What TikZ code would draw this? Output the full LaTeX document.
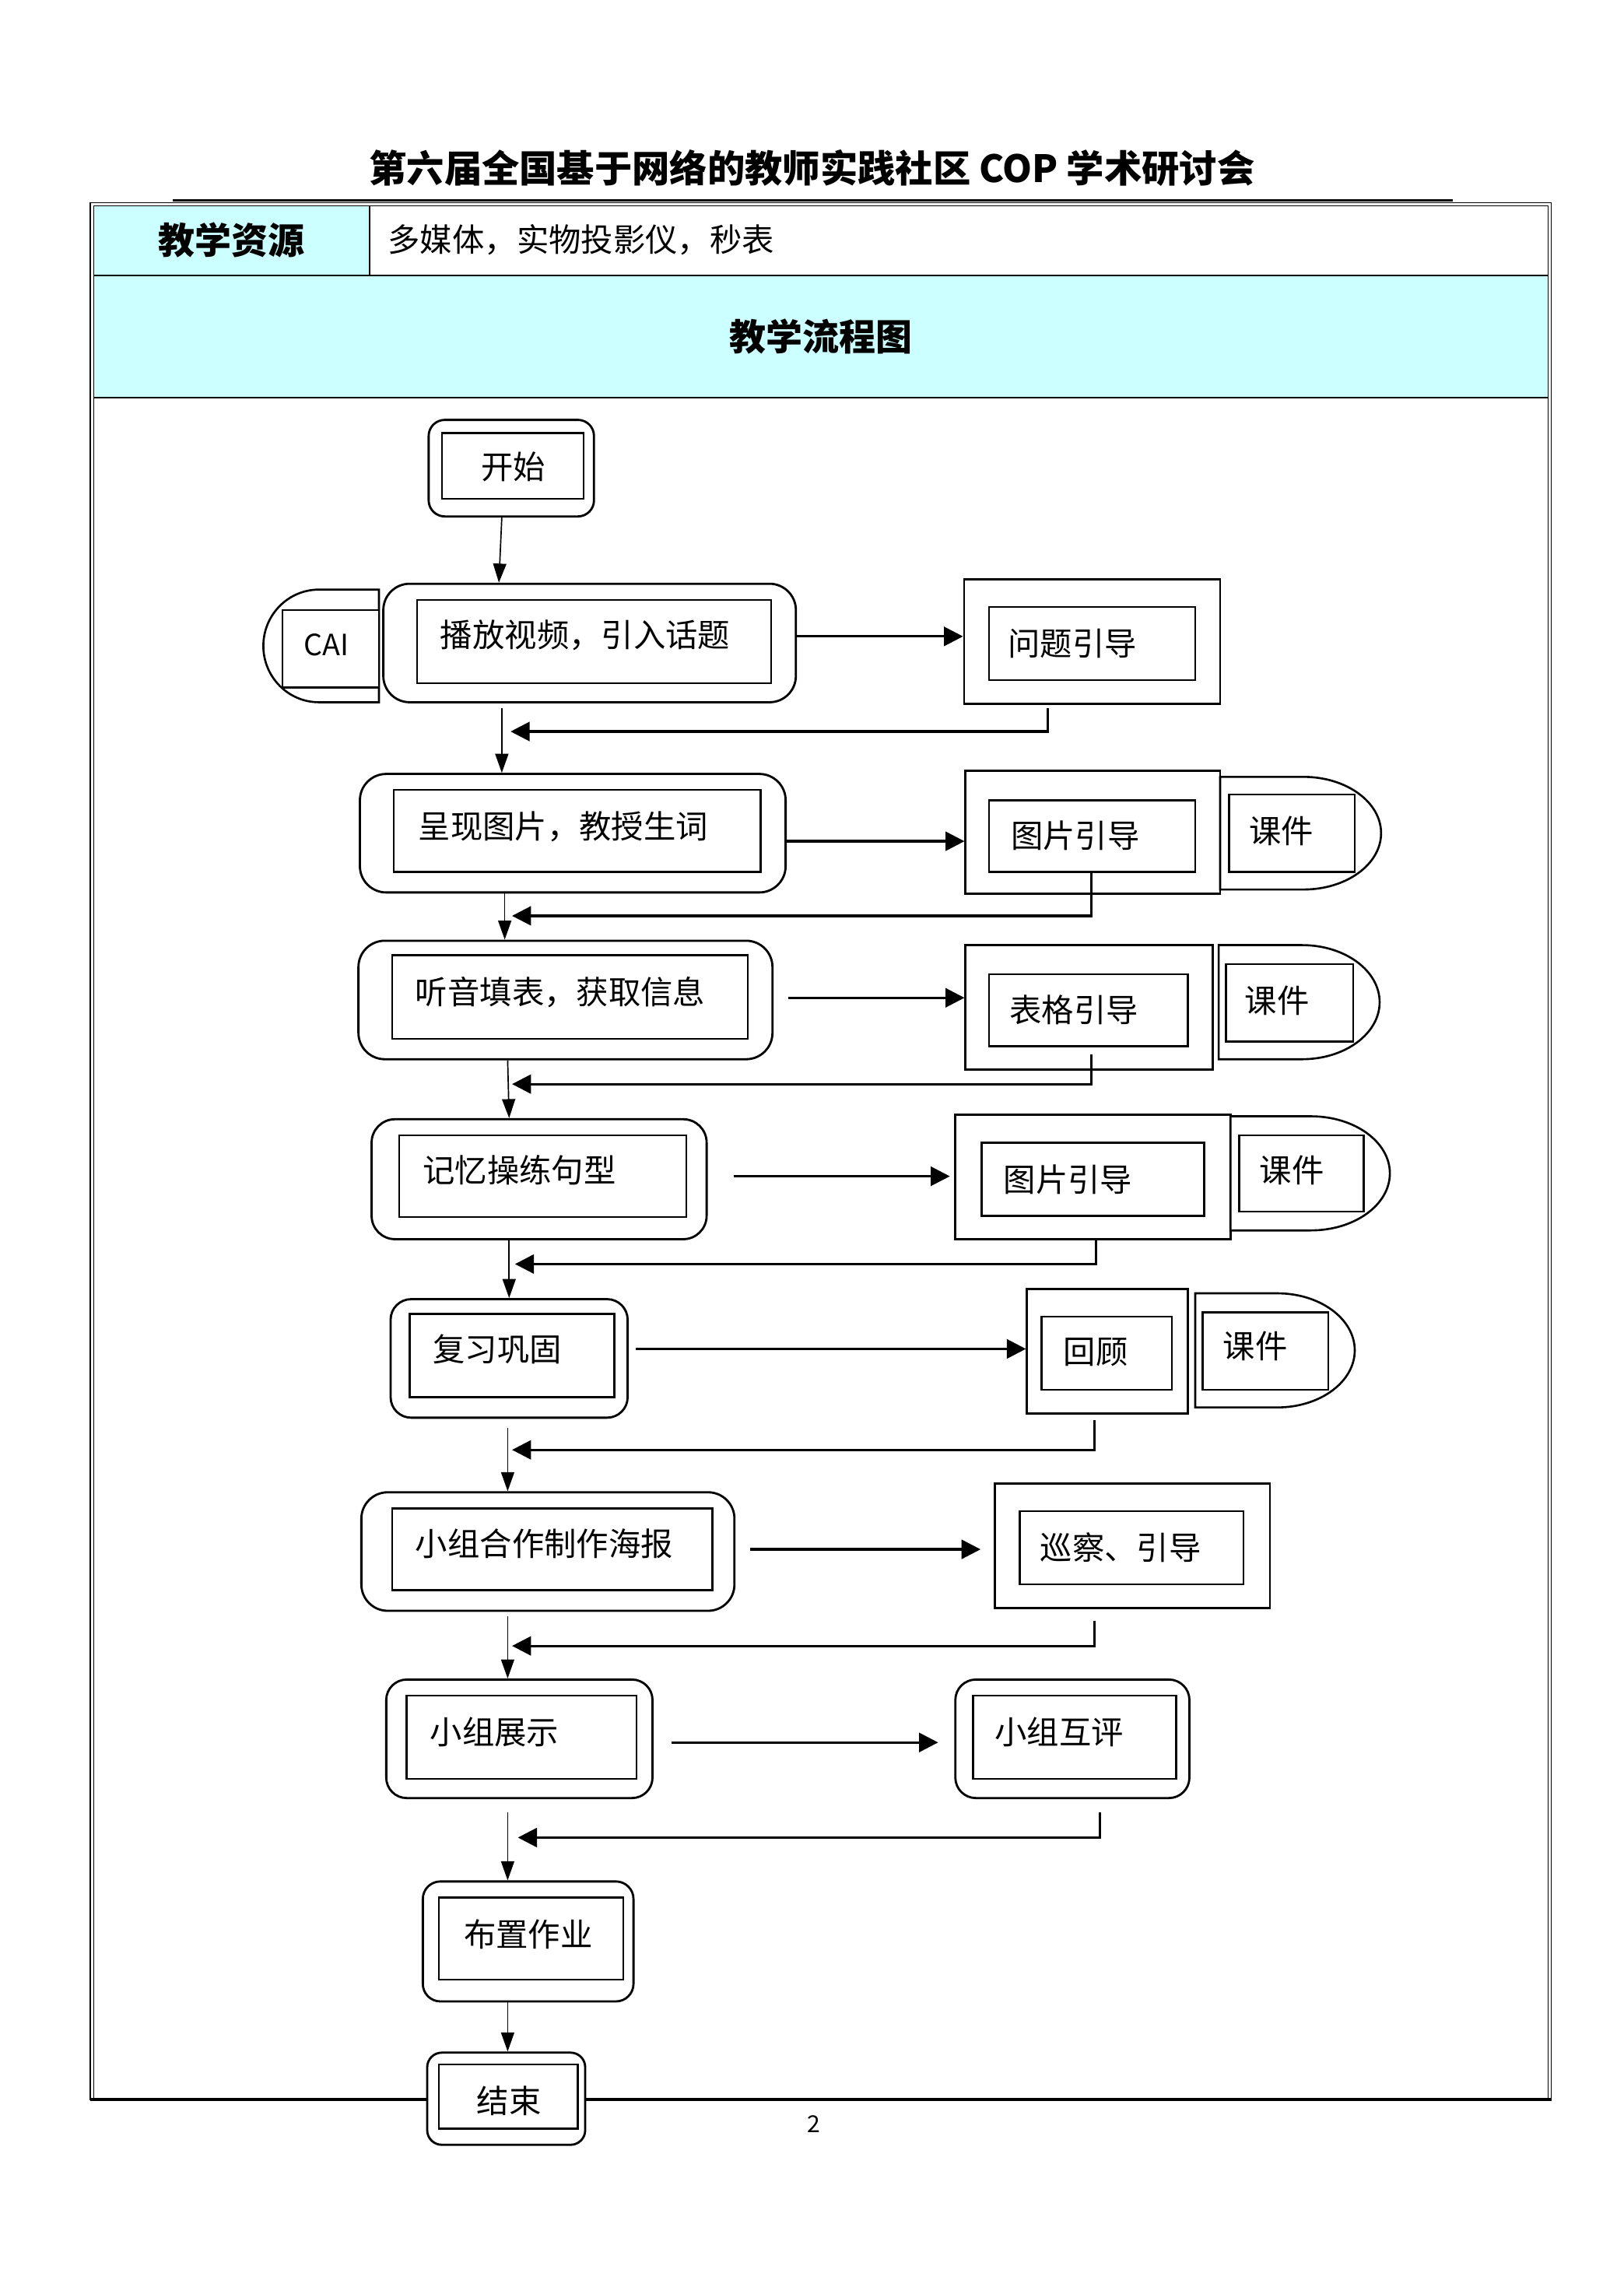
\documentclass[tikz,border=0pt]{standalone}
\usepackage{fontspec}
\setmainfont{Noto Sans CJK SC}
\usetikzlibrary{arrows.meta}
\definecolor{cyanbg}{HTML}{CCFFFF}
\tikzset{
  obox/.style={draw, line width=1.5pt, rounded corners=14pt, fill=white, inner sep=0pt},
  sbox/.style={draw, line width=1.5pt, fill=white, inner sep=0pt},
  ibox/.style={draw, line width=1.3pt, fill=white, inner sep=0pt},
  lbl/.style={font=\fontsize{22}{24}\selectfont, inner sep=0pt},
  flow/.style={line width=0.9pt, -{Triangle[length=13pt,width=9pt]}},
  tflow/.style={line width=1.7pt, -{Triangle[length=13pt,width=13pt]}},
  kj/.style={draw, line width=1.4pt, fill=white},
}
\newcommand\bx[6]{\node[#2, minimum width={(#5-#3)*1pt}, minimum height={(#6-#4)*1pt}] (#1) at ({(#3+#5)/2},{(#4+#6)/2}) {};}
\newcommand\dshp[5]{%
  \pgfmathsetmacro\dsA{#3-#5}%
  \pgfmathsetmacro\dsB{#3-#5+0.5523*#5}%
  \pgfmathsetmacro\dsM{(#2+#4)/2}%
  \pgfmathsetmacro\dsU{\dsM-0.5523*(#4-#2)/2}%
  \pgfmathsetmacro\dsD{\dsM+0.5523*(#4-#2)/2}%
  \draw[kj] (#1,#2) -- (\dsA,#2) .. controls (\dsB,#2) and (#3,\dsU) .. (#3,\dsM) .. controls (#3,\dsD) and (\dsB,#4) .. (\dsA,#4) -- (#1,#4) -- cycle;
}
\begin{document}
\begin{tikzpicture}[x=1pt,y=-1pt]
\useasboundingbox (0,0) rectangle (1110,1568);
% ---------- header ----------
\node[font=\bfseries\fontsize{25.7}{28}\selectfont, inner sep=0pt] (title) at (555,115) {第六届全国基于网络的教师实践社区 COP 学术研讨会};
\draw[line width=1.6pt] (118,137) -- (993,137);
% ---------- table ----------
\fill[cyanbg] (64.2,140.5) rectangle (252.5,188.4);
\fill[cyanbg] (64.2,188.4) rectangle (1058,271.7);
\draw[line width=0.6pt] (61.7,138.4) rectangle (1060.5,1435);
\draw[line width=0.6pt] (64.2,140.5) rectangle (1058,1435);
\draw[line width=2pt] (61.7,1435) -- (1060.5,1435);
\draw[line width=1.3pt] (64.2,188.4) -- (1058,188.4);
\draw[line width=1.3pt] (64.2,271.7) -- (1058,271.7);
\draw[line width=1pt] (252.5,140.5) -- (252.5,188.4);
\node[font=\bfseries\fontsize{25}{28}\selectfont, inner sep=0pt] (res) at (158,164) {教学资源};
\node[lbl, anchor=west] (resv) at (265,164) {多媒体，实物投影仪，秒表};
\node[font=\bfseries\fontsize{25}{28}\selectfont, inner sep=0pt] (flowt) at (561,230) {教学流程图};
\node[font=\fontsize{16}{18}\selectfont, inner sep=0pt] (pg) at (556,1452) {2};
% ---------- left column ----------
\bx{start}{obox, rounded corners=11pt}{293}{287}{406}{353}
\bx{starti}{ibox}{302}{296}{399}{341}
\node[lbl] (tstart) at (351,319) {开始};

\dshp{259}{403}{180}{480}{-38}
\bx{caii}{ibox}{193}{417}{259}{470}
\node[lbl, font=\fontsize{20}{22}\selectfont] (tcai) at (223,441) {CAI};

\bx{play}{obox, rounded corners=18pt}{262}{399}{544}{480}
\bx{playi}{ibox}{285}{410}{527}{467}
\node[lbl] (tplay) at (400,434) {播放视频，引入话题};

\bx{s2}{obox, rounded corners=18pt}{246}{529}{537}{610}
\bx{s2i}{ibox}{269}{540}{520}{596}
\node[lbl] (ts2) at (385,565) {呈现图片，教授生词};

\bx{s3}{obox, rounded corners=18pt}{245}{643}{528}{724}
\bx{s3i}{ibox}{268}{653}{511}{710}
\node[lbl] (ts3) at (383,678) {听音填表，获取信息};

\bx{s4}{obox, rounded corners=16pt}{254}{765}{483}{847}
\bx{s4i}{ibox}{273}{776}{469}{832}
\node[lbl] (ts4) at (355,800) {记忆操练句型};

\bx{s5}{obox, rounded corners=14pt}{267}{888}{429}{969}
\bx{s5i}{ibox}{280}{898}{420}{955}
\node[lbl] (ts5) at (340,922) {复习巩固};

\bx{s6}{obox, rounded corners=18pt}{247}{1020}{502}{1101}
\bx{s6i}{ibox}{268}{1031}{487}{1087}
\node[lbl] (ts6) at (372,1055) {小组合作制作海报};

\bx{s7}{obox, rounded corners=14pt}{264}{1148}{446}{1229}
\bx{s7i}{ibox}{278}{1159}{435}{1216}
\node[lbl] (ts7) at (338,1184) {小组展示};

\bx{s8}{obox, rounded corners=12pt}{289}{1286}{433}{1368}
\bx{s8i}{ibox}{300}{1297}{426}{1353}
\node[lbl] (ts8) at (361,1322) {布置作业};

\bx{end}{obox, rounded corners=10pt}{292}{1403}{400}{1466}
\bx{endi}{ibox}{300}{1411}{395}{1455}
\node[lbl] (tend) at (348,1436) {结束};
% ---------- right column ----------
\bx{q1}{sbox}{659}{396}{834}{481}
\bx{q1i}{ibox}{676}{415}{817}{465}
\node[lbl] (tq1) at (733,440) {问题引导};

\bx{g2}{sbox}{660}{527}{834}{611}
\bx{g2i}{ibox}{676}{547}{817}{596}
\node[lbl] (tg2) at (735,571) {图片引导};
\dshp{834}{531}{944}{608}{53}
\bx{k2i}{ibox}{840}{543}{926}{596}
\node[lbl] (tk2) at (876,568) {课件};

\bx{g3}{sbox}{660}{646}{829}{731}
\bx{g3i}{ibox}{676}{666}{812}{715}
\node[lbl] (tg3) at (734,690) {表格引导};
\dshp{833}{646}{943}{724}{53}
\bx{k3i}{ibox}{838}{659}{925}{712}
\node[lbl] (tk3) at (873,684) {课件};

\bx{g4}{sbox}{653}{762}{841}{847}
\bx{g4i}{ibox}{671}{781}{823}{831}
\node[lbl] (tg4) at (730,806) {图片引导};
\dshp{841}{763}{950}{841}{54}
\bx{k4i}{ibox}{847}{776}{932}{828}
\node[lbl] (tk4) at (883,800) {课件};

\bx{g5}{sbox}{702}{881}{812}{966}
\bx{g5i}{ibox}{712}{900}{801}{950}
\node[lbl] (tg5) at (749,924) {回顾};
\dshp{817}{884}{926}{962}{53}
\bx{k5i}{ibox}{822}{897}{908}{950}
\node[lbl] (tk5) at (858,920) {课件};

\bx{g6}{sbox}{680}{1014}{868}{1099}
\bx{g6i}{ibox}{697}{1033}{850}{1083}
\node[lbl] (tg6) at (766,1058) {巡察、引导};

\bx{g7}{obox, rounded corners=14pt}{653}{1148}{813}{1229}
\bx{g7i}{ibox}{665}{1159}{804}{1216}
\node[lbl] (tg7) at (724,1184) {小组互评};
% ---------- main flow ----------
\draw[flow] (343,0 |- start.south) -- (341,0 |- play.north);
\draw[flow, shorten <=3pt] (343,0 |- play.south) -- (343,0 |- s2.north);
\draw[flow] (345,0 |- s2.south) -- (345,0 |- s3.north);
\draw[flow] (347,0 |- s3.south) -- (348,0 |- s4.north);
\draw[flow] (348,0 |- s4.south) -- (348,0 |- s5.north);
\draw[flow, shorten <=6pt] (347,0 |- s5.south) -- (347,0 |- s6.north);
\draw[flow, shorten <=3pt] (347,0 |- s6.south) -- (347,0 |- s7.north);
\draw[flow, shorten <=9pt] (347,0 |- s7.south) -- (347,0 |- s8.north);
\draw[flow] (347,0 |- s8.south) -- (347,0 |- end.north);
% ---------- to the right ----------
\draw[tflow] (play.east |- 0,435) -- (q1.west |- 0,435);
\draw[tflow] (s2.east |- 0,575) -- (g2.west |- 0,575);
\draw[tflow, shorten <=10pt] (s3.east |- 0,682) -- (g3.west |- 0,682);
\draw[tflow, shorten <=18pt, shorten >=3pt] (s4.east |- 0,804) -- (g4.west |- 0,804);
\draw[tflow, shorten <=5pt] (s5.east |- 0,922) -- (g5.west |- 0,922);
\draw[tflow, shorten <=10pt, shorten >=9pt] (s6.east |- 0,1059) -- (g6.west |- 0,1059);
\draw[tflow, shorten <=12pt, shorten >=11pt] (s7.east |- 0,1191) -- (g7.west |- 0,1191);
% ---------- back ----------
\draw[tflow, shorten <=2pt] (716,0 |- q1.south) -- (716,500) -- (349,500);
\draw[tflow] (746,0 |- g2i.south) -- (746,626) -- (350,626);
\draw[tflow, shorten <=5pt] (746,0 |- g3i.south) -- (746,741) -- (350,741);
\draw[tflow] (749,0 |- g4.south) -- (749,864) -- (352,864);
\draw[tflow, shorten <=4pt] (748,0 |- g5.south) -- (748,991) -- (350,991);
\draw[tflow, shorten <=8pt] (748,0 |- g6.south) -- (748,1125) -- (350,1125);
\draw[tflow, shorten <=9pt] (752,0 |- g7.south) -- (752,1256) -- (354,1256);
\end{tikzpicture}
\end{document}
